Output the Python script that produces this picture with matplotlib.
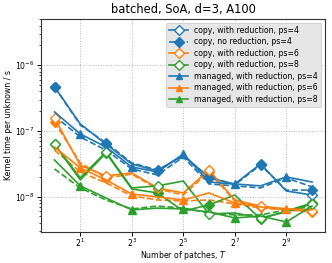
import matplotlib
matplotlib.use('Agg')
import matplotlib.pyplot as plt
from matplotlib.ticker import FixedLocator, LogFormatterMathtext, NullLocator, NullFormatter

# Number of patches
T = [1, 2, 4, 8, 16, 32, 64, 128, 256, 512, 1024]

# ps = 4
copy_red_4 = [4.68e-7, 1.28e-7, 6.3e-8, 3.15e-8, 2.46e-8, 4.31e-8, 1.93e-8, 1.56e-8, 3.15e-8, 1.22e-8, 1.06e-8]
copy_nored_4 = [4.7e-7, 1.23e-7, 6.6e-8, 3.26e-8, 2.55e-8, 4.16e-8, 2.0e-8, 1.51e-8, 3.04e-8, 1.26e-8, 1.26e-8]
managed_red_4 = [1.95e-7, 9.0e-8, 5.7e-8, 2.83e-8, 2.38e-8, 4.47e-8, 1.67e-8, 1.56e-8, 1.46e-8, 2.0e-8, 1.67e-8]
managed_nored_4 = [1.69e-7, 8.1e-8, 5.1e-8, 2.64e-8, 2.14e-8, 4.02e-8, 1.56e-8, 1.46e-8, 1.36e-8, 1.93e-8, 1.41e-8]

# ps = 6
copy_red_6 = [1.58e-7, 3.0e-8, 2.07e-8, 2.3e-8, 1.36e-8, 1.14e-8, 2.55e-8, 8.9e-9, 7.2e-9, 6.5e-9, 6.05e-9]
copy_nored_6 = [1.37e-7, 3.26e-8, 1.93e-8, 2.2e-8, 1.31e-8, 1.06e-8, 2.38e-8, 8.6e-9, 7.0e-9, 6.3e-9, 5.85e-9]
managed_red_6 = [5.7e-8, 2.74e-8, 1.80e-8, 1.10e-8, 9.9e-9, 8.9e-9, 1.14e-8, 8.0e-9, 7.0e-9, 6.5e-9, 6.3e-9]
managed_nored_6 = [5.1e-8, 2.38e-8, 1.62e-8, 1.03e-8, 8.9e-9, 8.6e-9, 8.9e-9, 7.75e-9, 6.7e-9, 6.3e-9, 6.05e-9]

# ps = 8
copy_red_8 = [6.3e-8, 1.93e-8, 4.79e-8, 1.36e-8, 1.46e-8, 1.73e-8, 5.45e-9, 5.65e-9, 4.74e-9, 5.85e-9, 7.75e-9]
copy_nored_8 = [6.3e-8, 1.80e-8, 4.62e-8, 1.31e-8, 1.14e-8, 6.05e-9, 7.5e-9, 1.06e-8, 4.6e-9, 6.05e-9, 8.0e-9]
managed_red_8 = [3.62e-8, 1.46e-8, 9.55e-9, 6.3e-9, 6.7e-9, 6.5e-9, 5.85e-9, 4.74e-9, 5.08e-9, 4.12e-9, 7.2e-9]
managed_nored_8 = [2.64e-8, 1.36e-8, 8.9e-9, 6.5e-9, 7.2e-9, 6.7e-9, 5.65e-9, 5.27e-9, 5.27e-9, 6.3e-9, 7.0e-9]

x_ticks = [2, 8, 32, 128, 512]
y_ticks = [1e-8, 1e-7, 1e-6]

title = "batched, SoA, d=3, A100"
xlabel = "Number of patches, $T$"
ylabel = "Kernel time per unknown / s"

C4, C6, C8 = '#1f77b4', '#ff7f0e', '#2ca02c'

fig = plt.figure(figsize=(3.32, 2.63), dpi=100)
ax = fig.add_axes([0.1235, 0.119, 0.8555, 0.809])
ax.set_xscale('log', base=2)
ax.set_yscale('log')

lw = 1.2
ms = 5.5
copy_kw = dict(marker='D', markevery=2, lw=lw, ms=ms)
man_kw = dict(marker='^', markevery=(1, 2), lw=lw, ms=ms)

# unlabeled background lines
ax.plot(T, managed_nored_4, color=C4, ls='--', lw=lw, label='_nolegend_')
ax.plot(T, managed_nored_6, color=C6, ls='--', lw=lw, label='_nolegend_')
ax.plot(T, managed_nored_8, color=C8, ls='--', lw=lw, label='_nolegend_')
ax.plot(T, copy_nored_6, color=C6, ls='--', mfc=C6, label='_nolegend_', **copy_kw)
ax.plot(T, copy_nored_8, color=C8, ls='-', mfc=C8, label='_nolegend_', **copy_kw)

h1, = ax.plot(T, copy_red_4, color=C4, ls='-', mfc='white', label='copy, with reduction, ps=4', **copy_kw)
h2, = ax.plot(T, copy_nored_4, color=C4, ls='--', mfc=C4, label='copy, no reduction, ps=4', **copy_kw)
h3, = ax.plot(T, copy_red_6, color=C6, ls='-', mfc='white', label='copy, with reduction, ps=6', **copy_kw)
h4, = ax.plot(T, copy_red_8, color=C8, ls='-', mfc='white', label='copy, with reduction, ps=8', **copy_kw)
h5, = ax.plot(T, managed_red_4, color=C4, ls='-', label='managed, with reduction, ps=4', **man_kw)
h6, = ax.plot(T, managed_red_6, color=C6, ls='-', label='managed, with reduction, ps=6', **man_kw)
h7, = ax.plot(T, managed_red_8, color=C8, ls='-', label='managed, with reduction, ps=8', **man_kw)

ax.set_xlim(0.695, 1453)
ax.set_ylim(2.93e-9, 5.07e-6)

ax.xaxis.set_major_locator(FixedLocator(x_ticks))
ax.xaxis.set_major_formatter(LogFormatterMathtext(base=2))
ax.xaxis.set_minor_locator(NullLocator())
ax.yaxis.set_major_locator(FixedLocator(y_ticks))
ax.yaxis.set_major_formatter(LogFormatterMathtext(base=10))
ax.yaxis.set_minor_formatter(NullFormatter())

ax.tick_params(labelsize=5.6, length=3, width=0.7, pad=1.8)
ax.tick_params(axis='x', pad=0.6)
ax.tick_params(which='minor', length=1.8, width=0.5)
for s in ax.spines.values():
    s.set_linewidth(0.8)
    s.set_color('#333333')

ax.grid(True, which='major', ls=':', color='#b8b8b8', lw=0.7)

ax.set_title(title, fontsize=8.3, pad=4)
ax.set_xlabel(xlabel, fontsize=5.6, labelpad=0)
ax.set_ylabel(ylabel, fontsize=5.6, labelpad=1.5)

leg = ax.legend(handles=[h1, h2, h3, h4, h5, h6, h7], loc='upper right', fontsize=5.6,
                frameon=True, facecolor='#e6e6e6', edgecolor='#cccccc', framealpha=1.0,
                fancybox=True, handlelength=2.4, markerscale=0.85, borderaxespad=0.5,
                labelspacing=0.32, borderpad=0.4)
leg.get_frame().set_linewidth(0.6)

fig.savefig('out.png', dpi=100)
